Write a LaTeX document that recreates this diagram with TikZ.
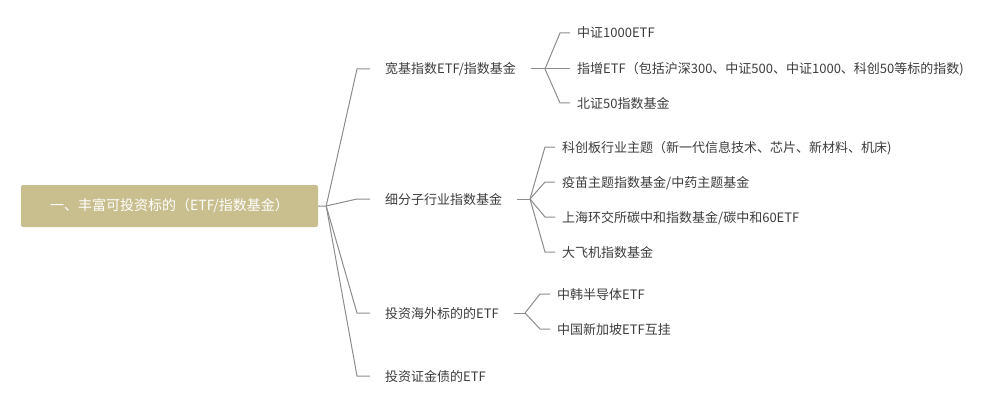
\documentclass[tikz,border=0pt]{standalone}
\usepackage{fontspec}
\setmainfont{Noto Sans CJK SC}
\usepackage{tikz}
\usetikzlibrary{calc}

\definecolor{rootfill}{RGB}{201,190,142}
\definecolor{txtgray}{RGB}{60,60,60}
\definecolor{linkgray}{RGB}{140,140,140}

\begin{document}
\begin{tikzpicture}[
    x=1pt,
    y=-1pt,
    every node/.style={font=\fontsize{13}{15}\selectfont},
    topic/.style={anchor=west,text=txtgray,inner xsep=0pt,inner ysep=0pt,text height=11pt,text depth=1pt},
    link/.style={draw=linkgray,line width=1pt}
]

\useasboundingbox (0,0) rectangle (1002,412);

%------------------------------------------------------------
% Root
%------------------------------------------------------------

\node[
    fill=rootfill,
    text=white,
    rounded corners=2pt,
    minimum width=297pt,
    minimum height=42pt,
    font=\fontsize{14}{16}\selectfont
]
(root) at (169.5,206)
{一、丰富可投资标的（ETF/指数基金）};

%------------------------------------------------------------
% First level
%------------------------------------------------------------

\node[topic] (kuanji) at (385,69) {宽基指数ETF/指数基金};
\node[topic] (xifen) at (385,199) {细分子行业指数基金};
\node[topic] (haiwai) at (385,313) {投资海外标的的ETF};
\node[topic] (zhengjin) at (385,376) {投资证金债的ETF};

%------------------------------------------------------------
% Second level
%------------------------------------------------------------

% broad index
\node[topic] (zz1000) at (577,33) {中证1000ETF};
\node[topic] (zhizeng) at (577,69) {指增ETF（包括沪深300、中证500、中证1000、科创50等标的指数)};
\node[topic] (bz50) at (577,103) {北证50指数基金};

% sector index
\node[topic] (kechuang) at (562,147) {科创板行业主题（新一代信息技术、芯片、新材料、机床)};
\node[topic] (yimiao) at (562,182) {疫苗主题指数基金/中药主题基金};
\node[topic] (tanzhonghe) at (562,217) {上海环交所碳中和指数基金/碳中和60ETF};
\node[topic] (dafeiji) at (562,252) {大飞机指数基金};

% overseas
\node[topic] (zhonghan) at (557,294) {中韩半导体ETF};
\node[topic] (xinjiapo) at (557,329) {中国新加坡ETF互挂};

%------------------------------------------------------------
% Junctions
%------------------------------------------------------------

\coordinate (rootj) at ($(root.east)+(8,0)$);
\coordinate (kuanjij) at ($(zz1000.west |- kuanji.east)+(-32,0)$);
\coordinate (xifenj) at ($(kechuang.west |- xifen.east)+(-32,0)$);
\coordinate (haiwaij) at ($(zhonghan.west |- haiwai.east)+(-32,0)$);

%------------------------------------------------------------
% Links from root
%------------------------------------------------------------

\draw[link]
(root.east)--(rootj)--($(kuanji.west)+(-28,0)$)--($(kuanji.west)+(-15,0)$);

\draw[link]
(rootj)--($(xifen.west)+(-28,0)$)--($(xifen.west)+(-15,0)$);

\draw[link]
(rootj)--($(haiwai.west)+(-28,0)$)--($(haiwai.west)+(-15,0)$);

\draw[link]
(rootj)--($(zhengjin.west)+(-28,0)$)--($(zhengjin.west)+(-15,0)$);

%------------------------------------------------------------
% Links to second level
%------------------------------------------------------------

% broad index
\draw[link]
($(kuanji.east)+(15,0)$)--(kuanjij);

\draw[link]
(kuanjij)--($(zz1000.west)+(-17,0)$)--($(zz1000.west)+(-7,0)$);

\draw[link]
(kuanjij)--($(zhizeng.west)+(-7,0)$);

\draw[link]
(kuanjij)--($(bz50.west)+(-17,0)$)--($(bz50.west)+(-7,0)$);

% sector index
\draw[link]
($(xifen.east)+(15,0)$)--(xifenj);

\draw[link]
(xifenj)--($(kechuang.west)+(-17,0)$)--($(kechuang.west)+(-7,0)$);

\draw[link]
(xifenj)--($(yimiao.west)+(-17,0)$)--($(yimiao.west)+(-7,0)$);

\draw[link]
(xifenj)--($(tanzhonghe.west)+(-17,0)$)--($(tanzhonghe.west)+(-7,0)$);

\draw[link]
(xifenj)--($(dafeiji.west)+(-17,0)$)--($(dafeiji.west)+(-7,0)$);

% overseas
\draw[link]
($(haiwai.east)+(15,0)$)--(haiwaij);

\draw[link]
(haiwaij)--($(zhonghan.west)+(-17,0)$)--($(zhonghan.west)+(-7,0)$);

\draw[link]
(haiwaij)--($(xinjiapo.west)+(-17,0)$)--($(xinjiapo.west)+(-7,0)$);

\end{tikzpicture}
\end{document}
